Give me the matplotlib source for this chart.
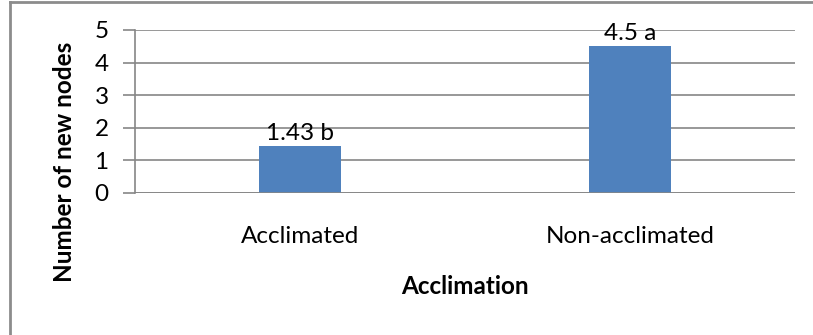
import matplotlib
matplotlib.use("Agg")
import matplotlib.pyplot as plt
from matplotlib.lines import Line2D

categories = ["Acclimated", "Non-acclimated"]
values = [1.43, 4.5]
labels = ["1.43 b", "4.5 a"]
yticks = [0, 1, 2, 3, 4, 5]

plt.rcParams['font.family'] = ['Lato', 'DejaVu Sans']
FS = 17.5

fig = plt.figure(figsize=(8.13, 3.35), dpi=100)
ax = fig.add_axes([135/813, 1 - 193/335, (795-135)/813, (193-30)/335])

x = list(range(len(categories)))
bars = ax.bar(x, values, width=0.25, color="#4F81BD", zorder=3)
ax.set_xlim(-0.5, 1.5)
ax.set_ylim(0, 5)
ax.set_yticks(yticks)
ax.set_yticklabels([str(t) for t in yticks], fontsize=FS)
ax.set_xticks(x)
ax.set_xticklabels(categories, fontsize=FS)
ax.tick_params(axis='x', length=0, pad=24)
ax.tick_params(axis='y', length=9, width=1.2, color="#868686", pad=10)
ax.grid(axis='y', color="#868686", linewidth=1.2, zorder=0)
for s in ['top', 'right', 'bottom']:
    ax.spines[s].set_visible(False)
ax.spines['left'].set_color("#868686")
ax.spines['left'].set_linewidth(1.2)
ax.axhline(0, color="#868686", linewidth=1.2, zorder=4)

for xi, v, lab in zip(x, values, labels):
    ax.annotate(lab, (xi, v), xytext=(0, 2), textcoords='offset points',
                ha='center', va='bottom', fontsize=FS)

ax.set_xlabel("Acclimation", fontsize=FS, fontweight='bold', labelpad=20)
fig.text(65/813, 1 - 161.5/335, "Number of new nodes", rotation=90,
         ha='center', va='center', fontsize=FS, fontweight='bold')

# chart-area border (only left and top edges visible in the reference)
fig.add_artist(Line2D([9.5/813, 9.5/813], [0, 1 - 1.5/335], transform=fig.transFigure,
                      color="#8C8C8C", linewidth=2))
fig.add_artist(Line2D([9.5/813, 1], [1 - 1.5/335, 1 - 1.5/335], transform=fig.transFigure,
                      color="#8C8C8C", linewidth=2))

fig.savefig("out.png", dpi=100)
